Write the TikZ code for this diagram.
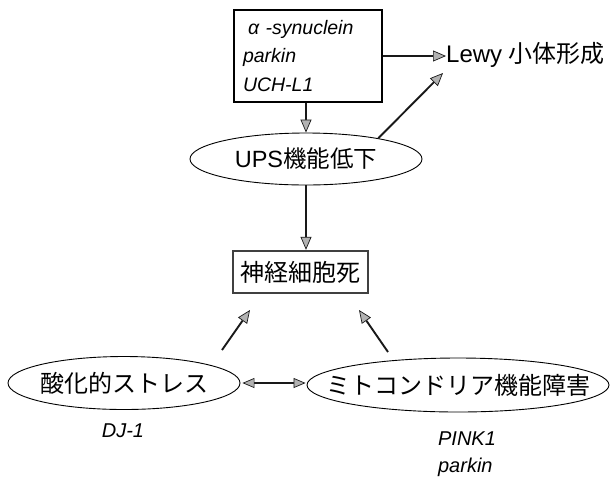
\documentclass[tikz,border=0pt]{standalone}
\usepackage{fontspec}
\setmainfont{Liberation Sans}
\newfontfamily\cjk{Noto Sans CJK JP}
\usetikzlibrary{shapes.geometric,arrows.meta}
\begin{document}
\begin{tikzpicture}[x=1pt,y=-1pt,
  tipshape/.style={},
  conn/.style={line width=1.9pt, draw=black!90,
    -{Triangle[length=13pt,width=11pt,fill=gray!60,line width=0.7pt]}},
  dconn/.style={line width=1.6pt, draw=black!90,
    {Triangle[length=12pt,width=10pt,fill=gray!60,line width=0.7pt]}-{Triangle[length=12pt,width=10pt,fill=gray!60,line width=0.7pt]}},
  oval/.style={ellipse, draw, line width=0.9pt, inner sep=0pt},
  jtext/.style={font=\fontsize{24}{28}\selectfont\cjk, inner sep=0pt},
  gene/.style={font=\fontsize{20}{27}\selectfont\itshape, align=left, inner sep=0pt}]
\useasboundingbox (0,0) rectangle (612,483);

% top box
\node[draw, line width=1.4pt, minimum width=148pt, minimum height=92pt,
      text width=130pt, align=left, inner xsep=9pt,
      font=\fontsize{19.5}{28.5}\selectfont\itshape] (top) at (308,56)
  {\hspace*{5pt}α -synuclein\\parkin\\UCH-L1};

% Lewy
\node[anchor=west, inner sep=0pt, font=\fontsize{24}{28}\selectfont] (lewy) at (446,55)
  {Lewy {\cjk 小体形成}};
\coordinate (lewyin) at (443,73);

% UPS ellipse
\node[oval, minimum width=232pt, minimum height=52pt] (ups) at (306,159) {};
\node[font=\fontsize{23.5}{28}\selectfont, inner sep=0pt] (upst) at (ups.center) {UPS{\cjk 機能低下}};

% death box
\node[draw, line width=2.4pt, draw=black!75, minimum width=135pt, minimum height=42pt, jtext]
  (death) at (300.5,272) {神経細胞死};

% bottom ellipses
\node[oval, minimum width=232pt, minimum height=53pt] (ox) at (124,383) {};
\node[jtext] (oxt) at (ox.center) {酸化的ストレス};
\node[oval, minimum width=302pt, minimum height=54pt] (mito) at (458,385) {};
\node[jtext] (mitot) at (mito.center) {ミトコンドリア機能障害};

% gene labels
\node[gene] (dj) at (123,431) {DJ-1};
\node[gene] (pink) at (467,454) {PINK1\\parkin};

% arrow endpoints
\coordinate (a1s) at (222,350);
\coordinate (a1e) at (250,310);
\coordinate (a2s) at (388,352);
\coordinate (a2e) at (359,310);

% connectors
\draw[conn] (top.east |- 0,56) -- (lewy.west |- 0,56);
\draw[conn] (ups.north |- top.south) -- (ups.north);
\draw[conn] (ups.16) -- (lewyin);
\draw[conn] (ups.south) -- (ups.south |- death.north);
\draw[conn] (a1s) -- (a1e);
\draw[conn] (a2s) -- (a2e);
\draw[dconn, shorten <=2pt, shorten >=1pt] (ox.east) -- (ox.east -| mito.west);
\end{tikzpicture}
\end{document}
